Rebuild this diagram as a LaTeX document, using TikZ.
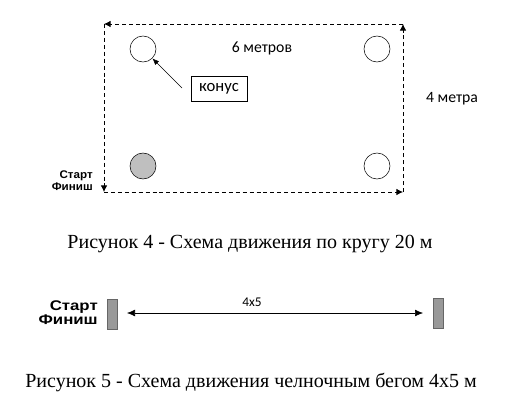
\documentclass[tikz,border=0pt]{standalone}
\usepackage{fontspec}
\setmainfont{Liberation Serif}
\newfontfamily\labelfont{Carlito}
\newfontfamily\startfont{Liberation Sans}
\usetikzlibrary{arrows.meta, positioning}

\newlength{\pxu}
\setlength{\pxu}{0.75pt}
\newcommand{\widetext}[2][1.2]{\scalebox{#1}[1]{#2}}
\tikzset{
  track/.style={dash pattern=on 3pt off 2.2pt, line width=0.65pt, -{Latex[length=5pt, width=5pt]}},
  cone/.style={circle, draw, thin, minimum size=26\pxu, inner sep=0pt},
  marker/.style={draw=black!60, fill=black!40, minimum width=10\pxu, minimum height=30\pxu, inner sep=0pt},
  lbl/.style={font=\labelfont\fontsize{11.8}{14}\selectfont, inner sep=0pt},
  startlbl/.style={font=\startfont\bfseries\fontsize{8.3}{9}\selectfont, align=right, inner sep=0pt},
  caption/.style={font=\fontsize{15}{18}\selectfont, inner sep=0pt}
}

\begin{document}
\begin{tikzpicture}[x=0.75pt, y=-0.75pt]
\useasboundingbox (0,0) rectangle (516,407);

% Circuit
\coordinate (bl) at (104,192);
\coordinate (br) at (403,192);
\coordinate (tr) at (403,24);
\coordinate (tl) at (104,24);
\draw[track] (bl) -- (br);
\draw[track] (br) -- (tr);
\draw[track] (tr) -- (tl);
\draw[track] (tl) -- (bl);

% Cones
\node[cone] (c1) at (143,49) {};
\node[cone] (c2) at (377,49) {};
\node[cone, fill=black!25] (c3) at (143,166) {};
\node[cone] (c4) at (377,166) {};

\node[lbl] (six) at (262,48) {6 метров};
\node[lbl] (four) at (452,99) {4 метра};

\node[draw, lbl, font=\labelfont\fontsize{12.5}{14}\selectfont, minimum width=56\pxu, minimum height=25\pxu] (konus) at (219,88.5) {конус};
\coordinate (k0) at (182,88);
\draw[-{Latex[length=5pt, width=4pt]}] (k0) -- (c1.-45);

\node[startlbl, anchor=east] (start1) at (93,181) {\widetext[1.05]{Старт}\\\widetext[1.05]{Финиш}};

\node[caption] (cap1) at (250,244) {Рисунок 4 - Схема движения по кругу 20 м};

% Shuttle run
\node[marker] (m1) at (112,314) {};
\node[marker] (m2) at (438,313) {};
\node[startlbl, anchor=east, font=\startfont\bfseries\fontsize{10.5}{8.5}\selectfont] (start2) at (98,312.5) {\widetext{Старт}\\\widetext{Финиш}};
\coordinate (a0) at (127,313);
\coordinate (a1) at (423,313);
\draw[{Latex[length=6pt, width=5pt]}-{Latex[length=6pt, width=5pt]}] (a0) -- (a1);
\node[lbl, font=\labelfont\fontsize{10}{12}\selectfont] (dist) at (252,302) {4x5};

\node[caption] (cap2) at (251,382) {Рисунок 5 - Схема движения челночным бегом 4х5 м};

\end{tikzpicture}
\end{document}
